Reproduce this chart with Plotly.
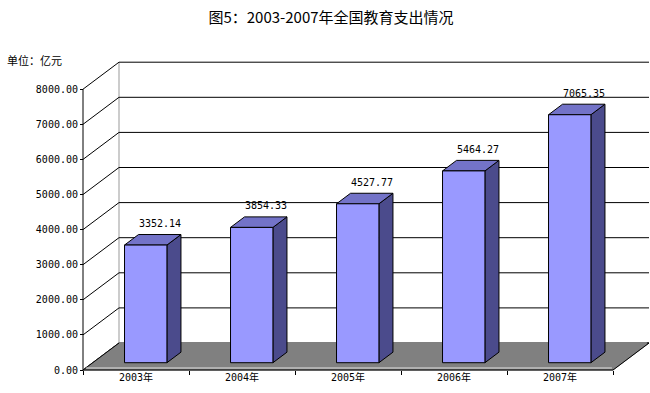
import plotly.graph_objects as go

# ---- data ----
years = ["2003年", "2004年", "2005年", "2006年", "2007年"]
values = [3352.14, 3854.33, 4527.77, 5464.27, 7065.35]
value_labels = ["3352.14", "3854.33", "4527.77", "5464.27", "7065.35"]
y_ticks = [0, 1000, 2000, 3000, 4000, 5000, 6000, 7000, 8000]
title_text = "图5：2003-2007年全国教育支出情况"
unit_text = "单位：亿元"

# ---- geometry (pseudo 3D) ----
PX_X = 106.0      # pixels per category
PX_Y = 0.0351     # pixels per value unit
DX = 36 / PX_X    # full depth offset in x units
DY = 27 / PX_Y    # full depth offset in value units
F0, F1 = 0.27, 0.66   # bar front/back depth fraction
HW = 0.2          # half bar width
N = len(years)
YMAX_GRID = y_ticks[-1]

L, R, T, B = 80, 0, 40, 20
W, H = 650 - L - R, 393 - T - B
xmin = -3 / PX_X
xmax = xmin + W / PX_X
ymin = -3 / PX_Y
ymax = ymin + H / PX_Y

FRONT = "#9999FF"
SIDE = "#4B4B8C"
TOP = "#7373C8"
FLOOR = "#808080"

fig = go.Figure()

def poly(xs, ys, fill, line="black", width=1):
    fig.add_trace(go.Scatter(x=xs + [xs[0]], y=ys + [ys[0]], mode="lines",
                             fill="toself", fillcolor=fill,
                             line=dict(color=line, width=width),
                             hoverinfo="skip", showlegend=False))

def line(xs, ys, color="black", width=1):
    fig.add_trace(go.Scatter(x=xs, y=ys, mode="lines",
                             line=dict(color=color, width=width),
                             hoverinfo="skip", showlegend=False))

# back wall vertical edge
line([DX, DX], [DY, YMAX_GRID + DY], color="#999999")
# gridlines: left wall diagonal + back wall horizontal
for v in y_ticks:
    line([0, DX, N + DX], [v, v + DY, v + DY], color="black")

# floor
poly([0, N, N + DX, DX], [0, 0, DY, DY], FLOOR, line=FLOOR)
line([0, DX], [0, DY])
line([N, N + DX, N + DX - 0.02], [0, DY, DY])
line([0.03, N - 0.01], [2 / PX_Y, 2 / PX_Y], color="#E0E0E0")
line([0, N], [0, 0])

# bars
for i, v in enumerate(values):
    xc = i + 0.5
    xl, xr = xc - HW, xc + HW
    # side face
    poly([xr + F0 * DX, xr + F1 * DX, xr + F1 * DX, xr + F0 * DX],
         [F0 * DY, F1 * DY, v + F1 * DY, v + F0 * DY], SIDE)
    # top face
    poly([xl + F0 * DX, xr + F0 * DX, xr + F1 * DX, xl + F1 * DX],
         [v + F0 * DY, v + F0 * DY, v + F1 * DY, v + F1 * DY], TOP)
    # front face
    poly([xl + F0 * DX, xr + F0 * DX, xr + F0 * DX, xl + F0 * DX],
         [F0 * DY, F0 * DY, v + F0 * DY, v + F0 * DY], FRONT)
    fig.add_annotation(x=xc + 0.225, y=v + F1 * DY, text=value_labels[i],
                       showarrow=False, yshift=11, xanchor="center", yanchor="middle",
                       font=dict(family="DejaVu Sans Mono", size=10, color="black"))

# front vertical axis line
line([0, 0], [0, YMAX_GRID])

fig.update_layout(
    width=650, height=393,
    margin=dict(l=L, r=R, t=T, b=B, autoexpand=False),
    paper_bgcolor="white", plot_bgcolor="white",
    showlegend=False,
    title=dict(text=title_text, x=331 / 650, xref="container", xanchor="center",
               y=1 - 18 / 393, yref="container", yanchor="middle",
               font=dict(family="Noto Sans CJK SC", size=15, color="black")),
    xaxis=dict(range=[xmin, xmax], showgrid=False, zeroline=False, showline=False,
               tickvals=[i + 0.5 for i in range(N)], ticktext=years, ticks="",
               tickfont=dict(family="DejaVu Sans Mono, Noto Sans CJK SC", size=10, color="black"),
               minor=dict(tickvals=list(range(N + 1)), ticks="outside", ticklen=4,
                          tickcolor="black", tickwidth=1, showgrid=False),
               anchor="free", position=(0 - ymin) / (ymax - ymin), fixedrange=True,
               automargin=False),
    yaxis=dict(range=[ymin, ymax], showgrid=False, zeroline=False, showline=False,
               tickvals=y_ticks, tickformat=".2f", ticks="outside", ticklen=3,
               tickcolor="black",
               tickfont=dict(family="DejaVu Sans Mono", size=10, color="black"),
               anchor="free", position=(0 - xmin) / (xmax - xmin), fixedrange=True,
               automargin=False),
)

fig.add_annotation(xref="paper", yref="paper", x=(5 - L) / W, y=1 - (60 - T) / H,
                   xanchor="left", yanchor="middle", text=unit_text, showarrow=False,
                   font=dict(family="Noto Sans CJK SC", size=11, color="black"))

fig.write_html("out.html", config={"displayModeBar": False},
               post_script="document.body.style.margin='0';document.body.style.overflow='hidden';")
